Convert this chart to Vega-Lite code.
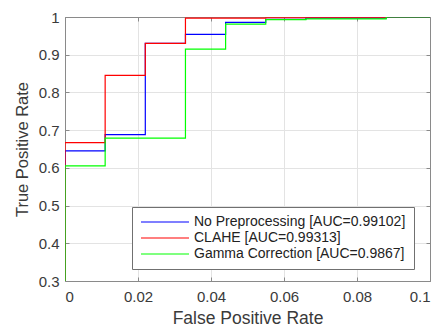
{
  "$schema": "https://vega.github.io/schema/vega-lite/v6.json",
  "autosize": {"type": "none"},
  "width": 365,
  "height": 264,
  "padding": {"left": 65, "top": 17, "right": 10, "bottom": 45},
  "background": "white",
  "config": {
    "font": "Liberation Sans",
    "view": {"stroke": "#8a8a8a", "strokeWidth": 1},
    "axis": {
      "labelFont": "Liberation Sans",
      "titleFont": "Liberation Sans",
      "labelColor": "#3a3a3a",
      "titleColor": "#3a3a3a",
      "labelFontSize": 15,
      "titleFontSize": 16.5,
      "titleFontWeight": "normal",
      "domainColor": "#8a8a8a",
      "tickColor": "#8a8a8a",
      "gridColor": "#e3e3e3",
      "gridOpacity": 1,
      "tickSize": -4
    }
  },
  "data": {
    "values": [
      {"series": "No Preprocessing [AUC=0.99102]", "fpr": 0, "tpr": 0},
      {"series": "No Preprocessing [AUC=0.99102]", "fpr": 0, "tpr": 0.645},
      {"series": "No Preprocessing [AUC=0.99102]", "fpr": 0.011, "tpr": 0.688},
      {"series": "No Preprocessing [AUC=0.99102]", "fpr": 0.022, "tpr": 0.930},
      {"series": "No Preprocessing [AUC=0.99102]", "fpr": 0.033, "tpr": 0.954},
      {"series": "No Preprocessing [AUC=0.99102]", "fpr": 0.044, "tpr": 0.986},
      {"series": "No Preprocessing [AUC=0.99102]", "fpr": 0.055, "tpr": 0.994},
      {"series": "No Preprocessing [AUC=0.99102]", "fpr": 0.066, "tpr": 0.997},
      {"series": "No Preprocessing [AUC=0.99102]", "fpr": 0.088, "tpr": 0.999},
      {"series": "No Preprocessing [AUC=0.99102]", "fpr": 0.1, "tpr": 1},
      {"series": "CLAHE [AUC=0.99313]", "fpr": 0, "tpr": 0},
      {"series": "CLAHE [AUC=0.99313]", "fpr": 0, "tpr": 0.667},
      {"series": "CLAHE [AUC=0.99313]", "fpr": 0.011, "tpr": 0.845},
      {"series": "CLAHE [AUC=0.99313]", "fpr": 0.022, "tpr": 0.930},
      {"series": "CLAHE [AUC=0.99313]", "fpr": 0.033, "tpr": 0.997},
      {"series": "CLAHE [AUC=0.99313]", "fpr": 0.055, "tpr": 0.998},
      {"series": "CLAHE [AUC=0.99313]", "fpr": 0.088, "tpr": 1},
      {"series": "CLAHE [AUC=0.99313]", "fpr": 0.1, "tpr": 1},
      {"series": "Gamma Correction [AUC=0.9867]", "fpr": 0, "tpr": 0},
      {"series": "Gamma Correction [AUC=0.9867]", "fpr": 0, "tpr": 0.605},
      {"series": "Gamma Correction [AUC=0.9867]", "fpr": 0.011, "tpr": 0.679},
      {"series": "Gamma Correction [AUC=0.9867]", "fpr": 0.033, "tpr": 0.915},
      {"series": "Gamma Correction [AUC=0.9867]", "fpr": 0.044, "tpr": 0.981},
      {"series": "Gamma Correction [AUC=0.9867]", "fpr": 0.055, "tpr": 0.993},
      {"series": "Gamma Correction [AUC=0.9867]", "fpr": 0.066, "tpr": 0.995},
      {"series": "Gamma Correction [AUC=0.9867]", "fpr": 0.088, "tpr": 1},
      {"series": "Gamma Correction [AUC=0.9867]", "fpr": 0.1, "tpr": 1}
    ]
  },
  "layer": [
    {
      "mark": {"type": "line", "interpolate": "step-after", "clip": true, "strokeWidth": 1.2},
      "encoding": {
        "x": {
          "field": "fpr", "type": "quantitative",
          "scale": {"domain": [0, 0.1], "nice": false},
          "axis": {"title": "False Positive Rate", "titleFontSize": 17.5, "values": [0, 0.02, 0.04, 0.06, 0.08, 0.1], "format": "~g", "grid": true, "labelPadding": 12, "titlePadding": 5}
        },
        "y": {
          "field": "tpr", "type": "quantitative",
          "scale": {"domain": [0.3, 1], "nice": false, "zero": false},
          "axis": {"title": "True Positive Rate", "values": [0.3, 0.4, 0.5, 0.6, 0.7, 0.8, 0.9, 1], "format": "~g", "grid": true, "labelPadding": 10, "titlePadding": 8}
        },
        "color": {
          "field": "series", "type": "nominal",
          "scale": {
            "domain": ["No Preprocessing [AUC=0.99102]", "CLAHE [AUC=0.99313]", "Gamma Correction [AUC=0.9867]"],
            "range": ["#0000ff", "#ff0000", "#00ff00"]
          },
          "legend": {
            "title": null,
            "orient": "none",
            "legendX": 67,
            "legendY": 190,
            "fillColor": "white",
            "strokeColor": "#707070",
            "padding": 8,
            "symbolType": "M-4,0H4",
            "symbolSize": 144,
            "symbolOffset": 18,
            "symbolStrokeWidth": 1.2,
            "labelFontSize": 14,
            "labelColor": "#222222",
            "labelOffset": 22,
            "labelLimit": 400,
            "rowPadding": 2
          }
        }
      }
    },
    {
      "mark": {"type": "rule", "opacity": 0},
      "encoding": {
        "x": {
          "field": "fpr", "type": "quantitative",
          "axis": {"orient": "top", "title": null, "labels": false, "grid": false, "values": [0, 0.02, 0.04, 0.06, 0.08, 0.1]}
        },
        "y": {
          "field": "tpr", "type": "quantitative",
          "axis": {"orient": "right", "title": null, "labels": false, "grid": false, "values": [0.3, 0.4, 0.5, 0.6, 0.7, 0.8, 0.9, 1]}
        }
      }
    }
  ],
  "resolve": {"axis": {"x": "independent", "y": "independent"}}
}
